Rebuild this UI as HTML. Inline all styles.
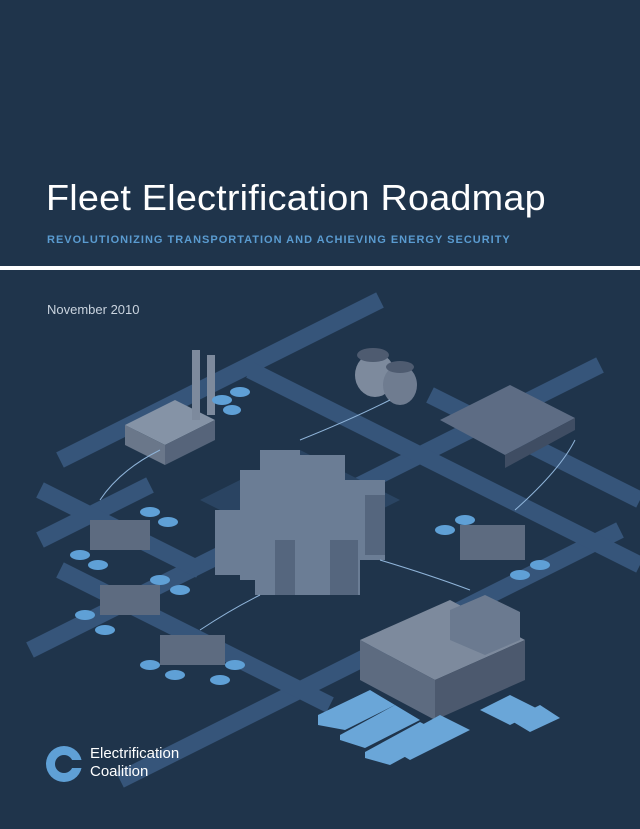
<!DOCTYPE html>
<html><head><meta charset="utf-8"><style>
body{margin:0;width:640px;height:829px;background:#1f344b;overflow:hidden;position:relative;font-family:"Liberation Sans",sans-serif}
.t{position:absolute;left:46px;top:177px;color:#fff;font-size:36px;letter-spacing:0.2px;transform:scaleX(1.05);transform-origin:left}
.s{position:absolute;left:47px;top:234px;color:#5a9bd0;font-size:11px;font-weight:bold;letter-spacing:1px}
.l{position:absolute;left:0;top:266px;width:640px;height:4px;background:#fff}
.d{position:absolute;left:47px;top:302px;color:#c9d3de;font-size:13px}
svg{position:absolute;left:0;top:0}
.lg{position:absolute;left:90px;top:745px;color:#fff;font-size:15px;line-height:18px}
</style></head><body>
<div class="t">Fleet Electrification Roadmap</div>
<div class="s">REVOLUTIONIZING TRANSPORTATION AND ACHIEVING ENERGY SECURITY</div>
<div class="l"></div>
<div class="d">November 2010</div>
<svg width="640" height="829">
<g stroke="#36557a" stroke-width="17" fill="none">
<line x1="60" y1="460" x2="380" y2="300"/>
<line x1="30" y1="650" x2="600" y2="365"/>
<line x1="120" y1="780" x2="620" y2="530"/>
<line x1="40" y1="540" x2="150" y2="485"/>
<line x1="250" y1="370" x2="640" y2="565"/>
<line x1="60" y1="570" x2="330" y2="705"/>
<line x1="40" y1="490" x2="200" y2="570"/>
<line x1="430" y1="395" x2="640" y2="500"/>
</g>
<g fill="#2a4462">
<polygon points="200,500 300,450 400,500 300,550"/>
</g>
<polygon points="125,425 175,400 215,420 165,445" fill="#8593a6"/>
<polygon points="125,425 165,445 165,465 125,445" fill="#6a778a"/>
<polygon points="165,445 215,420 215,440 165,465" fill="#56647a"/>
<rect x="192" y="350" width="8" height="70" fill="#7d8a9d"/><rect x="207" y="355" width="8" height="60" fill="#7d8a9d"/>
<ellipse cx="375" cy="375" rx="20" ry="22" fill="#7d8a9d"/><ellipse cx="400" cy="385" rx="17" ry="20" fill="#6f7c90"/>
<ellipse cx="373" cy="355" rx="16" ry="7" fill="#4e5b70"/><ellipse cx="400" cy="367" rx="14" ry="6" fill="#4e5b70"/>
<polygon points="440,420 510,385 575,418 505,455" fill="#5d6c84"/>
<polygon points="505,455 575,418 575,430 505,468" fill="#3f4d63"/>
<g fill="#6b7d95">
<rect x="215" y="510" width="45" height="65"/><rect x="240" y="470" width="50" height="110"/>
<rect x="260" y="450" width="40" height="130"/><rect x="295" y="455" width="50" height="110"/>
<rect x="330" y="480" width="55" height="80"/><rect x="255" y="520" width="45" height="75"/>
<rect x="300" y="525" width="60" height="70"/>
</g>
<g fill="#55667e"><rect x="275" y="540" width="20" height="55"/><rect x="330" y="540" width="28" height="55"/><rect x="365" y="495" width="20" height="60"/></g>
<g fill="#5d6b80">
<rect x="90" y="520" width="60" height="30"/><rect x="100" y="585" width="60" height="30"/>
<rect x="160" y="635" width="65" height="30"/><rect x="460" y="525" width="65" height="35"/>
</g>
<polygon points="360,640 450,600 525,640 435,680" fill="#7d8a9d"/>
<polygon points="360,640 435,680 435,720 360,680" fill="#5d6b80"/>
<polygon points="435,680 525,640 525,680 435,720" fill="#4c596e"/>
<polygon points="450,610 485,595 520,612 520,640 485,655 450,640" fill="#6b7a90"/>
<g fill="#6aa6d8">
<polygon points="318,715 370,690 395,705 345,730 318,725"/>
<polygon points="340,735 395,705 420,720 365,748 340,740"/>
<polygon points="365,752 420,722 445,735 390,765 365,758"/>
<polygon points="385,745 440,715 470,730 410,760"/>
<polygon points="480,710 510,695 540,710 510,725"/>
<polygon points="510,720 540,705 560,718 530,732"/>
</g>
<g fill="#5fa0d6">
<ellipse cx="222" cy="400" rx="10" ry="5"/><ellipse cx="240" cy="392" rx="10" ry="5"/><ellipse cx="232" cy="410" rx="9" ry="5"/>
<ellipse cx="150" cy="512" rx="10" ry="5"/><ellipse cx="168" cy="522" rx="10" ry="5"/><ellipse cx="80" cy="555" rx="10" ry="5"/><ellipse cx="98" cy="565" rx="10" ry="5"/>
<ellipse cx="160" cy="580" rx="10" ry="5"/><ellipse cx="180" cy="590" rx="10" ry="5"/><ellipse cx="85" cy="615" rx="10" ry="5"/><ellipse cx="105" cy="630" rx="10" ry="5"/>
<ellipse cx="150" cy="665" rx="10" ry="5"/><ellipse cx="175" cy="675" rx="10" ry="5"/><ellipse cx="220" cy="680" rx="10" ry="5"/><ellipse cx="235" cy="665" rx="10" ry="5"/>
<ellipse cx="445" cy="530" rx="10" ry="5"/><ellipse cx="465" cy="520" rx="10" ry="5"/><ellipse cx="520" cy="575" rx="10" ry="5"/><ellipse cx="540" cy="565" rx="10" ry="5"/>
</g>
<g stroke="#8fb4d9" stroke-width="1" fill="none">
<path d="M100,500 Q120,470 160,450"/><path d="M300,440 Q350,420 390,400"/>
<path d="M515,510 Q560,470 575,440"/><path d="M380,560 Q430,575 470,590"/>
<path d="M200,630 Q230,610 260,595"/>
</g>
<circle cx="64" cy="764" r="18" fill="#5fa0d6"/>
<circle cx="64" cy="764" r="9" fill="#1f344b"/>
<rect x="64" y="760" width="20" height="8" fill="#1f344b"/>
</svg>
<div class="lg">Electrification<br>Coalition</div>
</body></html>
